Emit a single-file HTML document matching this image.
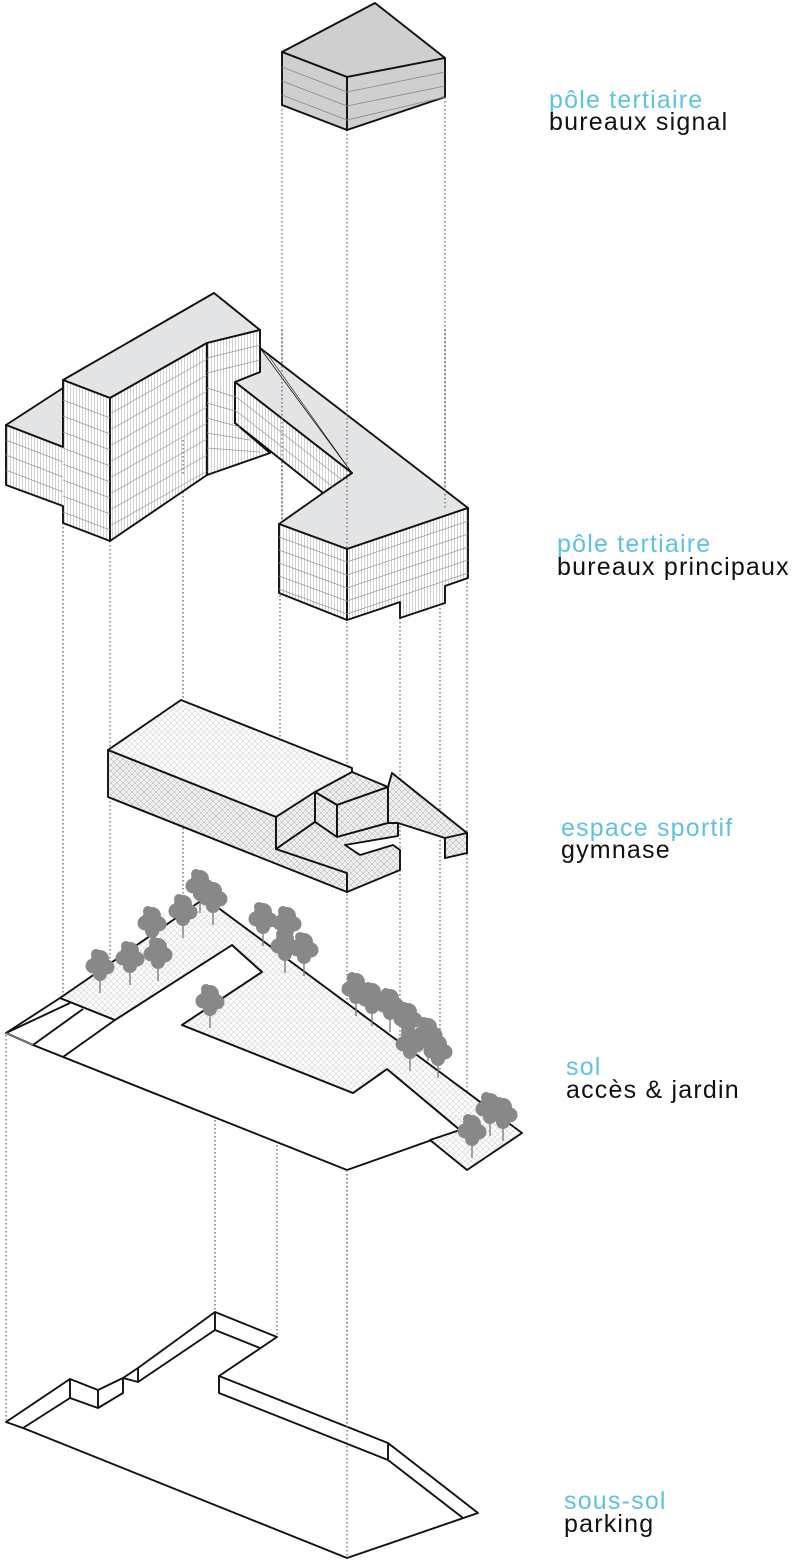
<!DOCTYPE html>
<html><head><meta charset="utf-8"><style>
html,body{margin:0;padding:0;background:#fff;width:800px;height:1562px;overflow:hidden}
svg{display:block}
.l{font-family:"Liberation Sans","DejaVu Sans",sans-serif;font-size:25px;letter-spacing:1.2px}
.b{fill:#5fc1e0}.k{fill:#111}
</style></head><body>
<svg width="800" height="1562" viewBox="0 0 800 1562" xmlns="http://www.w3.org/2000/svg">
<defs>
<pattern id="vl" width="3" height="10" patternUnits="userSpaceOnUse"><rect width="3" height="10" fill="#fff"/><line x1="1.5" y1="0" x2="1.5" y2="10" stroke="#bdbdbd" stroke-width="0.7"/></pattern>
<pattern id="xh" width="6" height="6" patternUnits="userSpaceOnUse"><rect width="6" height="6" fill="#eeeeee"/><path d="M0 0L6 6M6 0L0 6" stroke="#aaa" stroke-width="0.5"/></pattern>
<pattern id="xh2" width="6" height="6" patternUnits="userSpaceOnUse"><rect width="6" height="6" fill="#fafafa"/><path d="M0 0L6 6M6 0L0 6" stroke="#c4c4c4" stroke-width="0.45"/></pattern>
<g id="tree"><line x1="0" y1="0" x2="0" y2="28" stroke="#777" stroke-width="1.3"/><circle cx="0" cy="-6" r="9" fill="#888"/><circle cx="-7" cy="1" r="7.5" fill="#888"/><circle cx="7" cy="2" r="7.5" fill="#888"/><circle cx="0" cy="9" r="7" fill="#888"/><circle cx="-4" cy="-11" r="5" fill="#888"/></g>
</defs>

<g stroke="#666" stroke-width="1.3" stroke-dasharray="1.5,2.5" fill="none">
<line x1="282" y1="105" x2="282" y2="523"/><line x1="280" y1="595" x2="280" y2="817"/>
<line x1="347" y1="130" x2="347" y2="1556"/>
<line x1="445" y1="97" x2="445" y2="508"/>
<line x1="63" y1="523" x2="63" y2="1057"/>
<line x1="110" y1="541" x2="110" y2="1076"/>
<line x1="183" y1="440" x2="183" y2="1025"/>
<line x1="400" y1="618" x2="400" y2="1150"/>
<line x1="440" y1="600" x2="440" y2="1140"/>
<line x1="467" y1="578" x2="467" y2="1125"/>
<line x1="6" y1="1035" x2="6" y2="1420"/>
<line x1="215" y1="1120" x2="215" y2="1312"/>
<line x1="277" y1="1145" x2="277" y2="1337"/>
</g>

<g stroke="#111" stroke-width="1.9" stroke-linejoin="round">
<polygon points="282,52 375,3 445,58 347,77" fill="#cfcfcf"/>
<polygon points="282,52 347,77 347,130 282,105" fill="#cfcfcf"/>
<polygon points="347,77 445,58 445,97 347,130" fill="#cfcfcf"/>
</g>
<g stroke="#888" stroke-width="0.8"><line x1="282" y1="67" x2="347" y2="92"/><line x1="282" y1="81" x2="347" y2="106"/><line x1="282" y1="95" x2="347" y2="120"/><line x1="347" y1="92" x2="445" y2="72"/><line x1="347" y1="106" x2="445" y2="86"/><line x1="347" y1="120" x2="445" y2="97"/></g>

<g stroke="#111" stroke-width="1.9" stroke-linejoin="round">
<polygon points="6,425 63,388 63,447" fill="#e3e4e6"/>
<polygon points="63,380 214,293 260,330 207,343 110,398" fill="#e3e4e6"/>
<polygon points="260,348 468,508 347,549 279,524 323,493 352,473 235,382 260,372" fill="#e3e4e6"/>
<polygon points="6,425 63,447 63,380 110,398 110,541 63,523 63,506 6,485" fill="url(#vl)"/>
<polygon points="110,398 207,343 207,475 110,541" fill="url(#vl)"/>
<polygon points="207,343 260,330 260,372 235,382 235,423 270,453 207,475" fill="url(#vl)"/>
<polygon points="235,382 352,473 323,493 235,423" fill="url(#vl)"/>
<polygon points="279,524 347,549 347,620 279,593" fill="url(#vl)"/>
<polygon points="347,549 468,508 468,578 445,586 445,603 400,618 400,602 380,609 347,620" fill="url(#vl)"/>
<line x1="260" y1="348" x2="352" y2="473" stroke-width="0.8"/>
<line x1="266" y1="352" x2="352" y2="473" stroke-width="0.6"/>
</g>
<g stroke="#999" stroke-width="0.7" fill="none">
<path d="M6,440 63,462 M6,455 63,477 M6,470 63,492 M63,400 110,418 M63,416 110,434 M63,432 110,450 M63,448 110,466 M63,464 110,482 M63,480 110,498 M63,496 110,514 M63,512 110,530"/>
<path d="M110,414 207,359 M110,430 207,375 M110,446 207,391 M110,462 207,407 M110,478 207,423 M110,494 207,439 M110,510 207,455 M110,526 207,471"/>
<path d="M207,358 260,345 M207,373 260,360 M207,388 235,397 M207,403 235,411 M207,418 240,427 M207,433 250,440 M207,448 260,452"/>
<path d="M235,396 342,480 M235,410 333,487"/>
<path d="M279,537 347,562 M279,550 347,575 M279,563 347,588 M279,576 347,601 M279,589 347,614"/>
<path d="M347,562 468,521 M347,575 468,534 M347,588 468,547 M347,601 468,560 M347,614 468,573"/>
</g>
<g stroke="#666" stroke-width="1.3" stroke-dasharray="1.5,2.5"><line x1="282" y1="330" x2="282" y2="523"/><line x1="347" y1="330" x2="347" y2="548"/><line x1="445" y1="330" x2="445" y2="508"/><line x1="183" y1="440" x2="183" y2="475"/></g>

<g stroke="#111" stroke-width="1.9" stroke-linejoin="round">
<polygon points="108,750 181,700 352,768 352,775 315,792 276,817" fill="url(#xh2)"/>
<polygon points="108,750 276,817 276,849 347,873 347,892 108,797" fill="url(#xh)"/>
<polygon points="276,817 315,792 315,822 276,849" fill="url(#xh)"/>
<polygon points="315,792 352,772 388,787 337,805" fill="url(#xh)"/>
<polygon points="315,792 337,805 337,837 315,822" fill="url(#xh)"/>
<polygon points="337,805 388,787 388,823 337,837" fill="url(#xh)"/>
<polygon points="392,773 467,833 467,853 445,858 445,838 398,823 388,823 388,787" fill="url(#xh)"/>
<polygon points="445,838 467,833 467,853 445,858" fill="url(#xh)"/>
<polygon points="276,849 315,822 337,837 388,823 398,823 398,836 345,845 360,855 393,845 400,850 400,870 347,892 347,873" fill="url(#xh)"/>
</g>

<g stroke="#111" stroke-width="1.9" stroke-linejoin="round">
<polygon points="6,1033 60,998 115,1020 232,945 262,972 182,1025 353,1093 387,1069 460,1130 347,1170 33,1045" fill="#fff"/>
<polygon points="60,998 205,898 522,1133 467,1170 430,1140 460,1130 387,1069 353,1093 182,1025 262,972 232,945 115,1020" fill="url(#xh2)"/>
<line x1="6" y1="1033" x2="70" y2="1003"/>
<line x1="33" y1="1045" x2="83" y2="1009"/>
<line x1="63" y1="1057" x2="115" y2="1020"/>
<line x1="6" y1="1033" x2="33" y2="1045" stroke="#aaa" stroke-width="0.8"/>
</g>
<g>
<use href="#tree" x="100" y="965"/><use href="#tree" x="130" y="957"/><use href="#tree" x="152" y="922"/><use href="#tree" x="158" y="953"/><use href="#tree" x="183" y="910"/><use href="#tree" x="200" y="885"/><use href="#tree" x="213" y="897"/>
<use href="#tree" x="263" y="918"/><use href="#tree" x="287" y="922"/><use href="#tree" x="285" y="945"/><use href="#tree" x="304" y="948"/>
<use href="#tree" x="210" y="1000"/>
<use href="#tree" x="356" y="988"/><use href="#tree" x="372" y="998"/><use href="#tree" x="390" y="1004"/><use href="#tree" x="408" y="1018"/><use href="#tree" x="428" y="1033"/><use href="#tree" x="410" y="1043"/><use href="#tree" x="438" y="1050"/>
<use href="#tree" x="490" y="1108"/><use href="#tree" x="503" y="1113"/><use href="#tree" x="472" y="1130"/>
</g>

<g stroke="#111" stroke-width="1.9" stroke-linejoin="round" fill="none">
<polygon points="6,1422 70,1379 98,1390 123,1378 138,1368 215,1312 277,1337 219,1376 388,1443 478,1513 347,1558 23,1428" fill="#fff"/>
<polyline points="23,1428 70,1398 98,1408 123,1393 123,1378"/>
<polyline points="123,1378 138,1382 138,1368"/>
<polyline points="138,1382 215,1330 260,1348"/>
<line x1="70" y1="1379" x2="70" y2="1398"/><line x1="98" y1="1390" x2="98" y2="1408"/>
<line x1="215" y1="1312" x2="215" y2="1330"/>
<polyline points="219,1376 219,1393 388,1460 463,1518"/>
<line x1="388" y1="1443" x2="388" y2="1460"/>
</g>
<g stroke="#666" stroke-width="1.3" stroke-dasharray="1.5,2.5"><line x1="347" y1="1170" x2="347" y2="1556"/></g>

<text class="l b" x="549" y="108">pôle tertiaire</text><text class="l k" x="549" y="130">bureaux signal</text>
<text class="l b" x="557" y="552">pôle tertiaire</text><text class="l k" x="557" y="575">bureaux principaux</text>
<text class="l b" x="561" y="836">espace sportif</text><text class="l k" x="561" y="858">gymnase</text>
<text class="l b" x="566" y="1075">sol</text><text class="l k" x="566" y="1098">accès &amp; jardin</text>
<text class="l b" x="564" y="1509">sous-sol</text><text class="l k" x="564" y="1532">parking</text>
</svg>
</body></html>
